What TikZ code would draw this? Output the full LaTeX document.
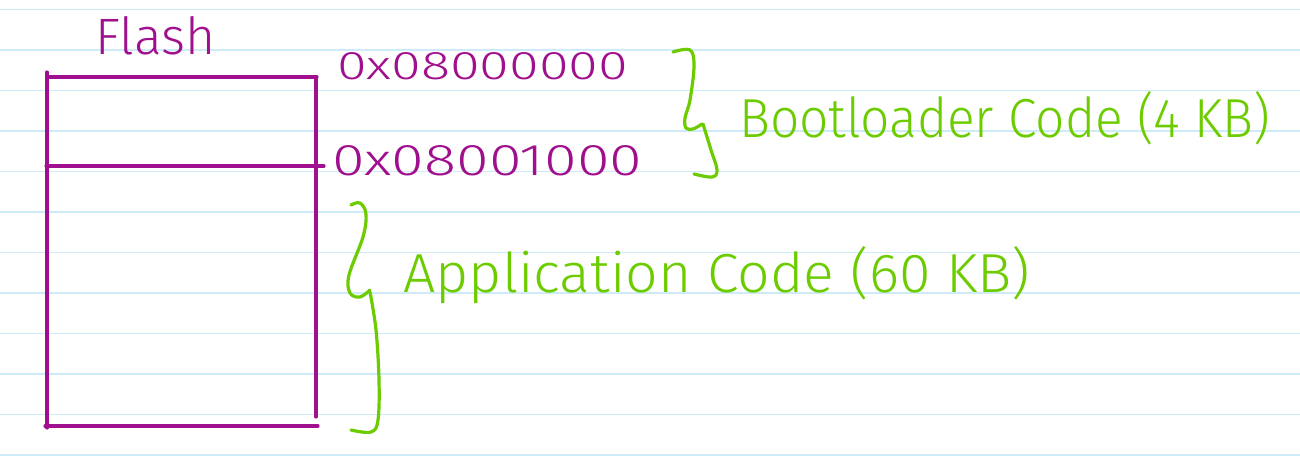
\documentclass[tikz,border=0pt]{standalone}
\usepackage{fontspec}
\usepackage{graphicx}
\setmainfont{Fira Sans}[UprightFont=* Light]
\definecolor{ink}{RGB}{160,16,142}
\definecolor{grn}{RGB}{108,204,0}
\definecolor{ruleblue}{RGB}{205,235,248}
\newlength{\pxu}\setlength{\pxu}{0.75pt}
\tikzset{
  ruleline/.style={draw=ruleblue, line width=0.9pt},
  magline/.style={draw=ink, line width=2.3pt, line cap=round},
  grnline/.style={draw=grn, line width=2.4pt, line cap=round, line join=round},
  magtext/.style={text=ink, inner sep=0pt, anchor=base west},
  grntext/.style={text=grn, inner sep=0pt, anchor=base west}
}
\begin{document}
\begin{tikzpicture}[x=0.75pt,y=-0.75pt]
\useasboundingbox (0,0) rectangle (1300,473);
\fill[white] (0,0) rectangle (1300,473);
\foreach \k in {0,...,11} \draw[ruleline] (0,9.5+40.5*\k) -- (1300,9.5+40.5*\k);
% flash memory box
\coordinate (tl) at (49,77);
\coordinate (tr) at (317,77);
\coordinate (lt) at (47,72);
\coordinate (lb) at (47,428);
\coordinate (rt) at (316,77);
\coordinate (rb) at (316,417);
\coordinate (ml) at (46,166);
\coordinate (mr) at (324,166);
\coordinate (bl) at (45,426);
\coordinate (br) at (318,426);
\draw[magline] (tl) -- (tr);
\draw[magline] (lt) -- (lb);
\draw[magline] (rt) -- (rb);
\draw[magline] (ml) -- (mr);
\draw[magline] (bl) -- (br);
% labels
\node[magtext] (flash) at (95,55) {\resizebox{120\pxu}{38\pxu}{Flash}};
\node[magtext] (addr1) at (337,80) {\resizebox{291\pxu}{27\pxu}{0x08000000}};
\node[magtext] (addr2) at (332,176) {\resizebox{310\pxu}{30\pxu}{0x08001000}};
\node[grntext] (boot) at (739,138) {\resizebox{531\pxu}{46\pxu}{Bootloader Code (4 KB)}};
\node[grntext] (app) at (403,293) {\resizebox{627\pxu}{46\pxu}{Application Code (60 KB)}};
% braces
\draw[grnline] plot[smooth, tension=0.6] coordinates {(673,52) (690,50) (694,66) (690,100) (685,118) (686,128) (693,129) (702,124)};
\draw[grnline] plot[smooth, tension=0.6] coordinates {(703,124) (711,150) (717,170) (712,177) (694,174)};
\draw[grnline] plot[smooth, tension=0.6] coordinates {(351,205) (360,203) (366,214) (363,237) (349,275) (350,293) (360,297) (370,290)};
\draw[grnline] plot[smooth, tension=0.6] coordinates {(370,292) (376,330) (379,380) (378,420) (371,432) (351,430)};
\end{tikzpicture}
\end{document}
